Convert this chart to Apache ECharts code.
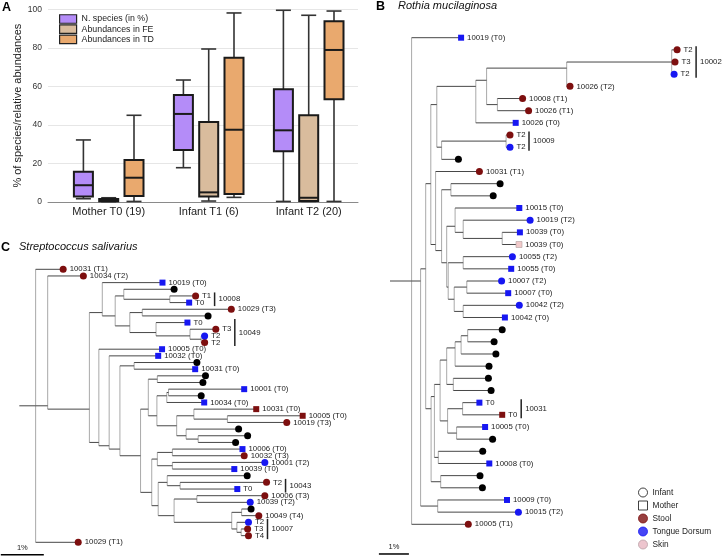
<!DOCTYPE html>
<html><head><meta charset="utf-8">
<script src="https://cdn.jsdelivr.net/npm/echarts@6/dist/echarts.min.js"></script>
<style>html,body{margin:0;padding:0;background:#fff}#c{width:722px;height:556px}</style>
</head><body><div id="c"></div>
<script>
// ---------- Panel A data ----------
const groups = ['Mother T0 (19)', 'Infant T1 (6)', 'Infant T2 (20)'];
const boxSeriesNames = ['N. species (in %)', 'Abundances in FE', 'Abundances in TD'];
// [min, Q1, median, Q3, max] per group
const nSpecies = [[1.7, 2.8, 8.7, 15.7, 32.2], [17.8, 27.0, 45.7, 55.5, 63.3], [0.3, 26.3, 37.2, 58.5, 99.5]];
const abundFE  = [[0.2, 0.4, 0.9, 1.6, 2.2], [0.5, 2.8, 5.0, 41.5, 79.4], [0.3, 0.5, 2.2, 45.0, 96.9]];
const abundTD  = [[0.3, 3.1, 12.6, 21.8, 45.0], [2.4, 4.2, 37.5, 74.9, 98.1], [0.3, 53.3, 78.9, 93.8, 99.1]];
const yTickMax = 100, yTickStep = 20;

// ---------- Panel B data (Rothia mucilaginosa) ----------
const bLabels = ['10019 (T0)','T2','T3','T2','10026 (T2)','10008 (T1)','10026 (T1)','10026 (T0)','T2','T2','',
  '10031 (T1)','','','10015 (T0)','10019 (T2)','10039 (T0)','10039 (T0)','10055 (T2)','10055 (T0)','10007 (T2)',
  '10007 (T0)','10042 (T2)','10042 (T0)','','','','','','','T0','T0','10005 (T0)','','','10008 (T0)','','',
  '10009 (T0)','10015 (T2)','10005 (T1)'];
const bTypes = ['MT','S','S','T','S','S','S','MT','S','T','U','S','U','U','MT','T','MT','MK','T','MT','T','MT','T','MT',
  'U','U','U','U','U','U','MT','MS','MT','U','U','MT','U','U','MT','T','S'];
// distance from root (in %)
const bDepth = [2.37,9.57,9.5,9.47,6.0,4.42,4.62,4.19,4.0,4.0,2.28,2.98,3.67,3.44,4.31,4.67,4.33,4.3,4.08,4.04,3.72,
  3.94,4.31,3.83,3.74,3.47,3.53,3.3,3.28,3.37,2.98,3.74,3.17,3.42,3.09,3.31,3.0,3.08,3.9,4.28,2.61];
// internal node = [depth, ...children]; leaf = leaf index
const bTree = [0.72, 0,
  [1.02,
    [1.19,
      [1.36,
        [1.56,
          [2.86, [3.22, [5.89, [9.39, 1, 2, 3], 4], [3.58, 5, 6]], 7],
          [1.72, [3.87, 8, 9], 10]],
        [1.52, 11,
          [1.72, [2.03, 12, 13],
            [1.89, [2.17, 14, [2.44, 15, [3.74, 16, 17]]],
              [1.94, [2.44, 18, 19], [2.14, [2.56, 20, 21], [2.44, 22, 23]]]]]]],
      [1.37,
        [1.48,
          [1.67,
            [1.89, [2.17, [2.37, [2.59, 24, 25], 26], 27], [2.11, 28, 29]],
            [1.92, [2.42, 30, 31], [2.22, 32, 33]]],
          [1.61, 34, 35]],
        [1.69, 36, 37]]],
    [1.59, 38, 39]],
  40];
const bClades = [['10002', 1, 3], ['10009', 8, 9], ['10031', 30, 31]];

// ---------- Panel C data (Streptococcus salivarius) ----------
const cLabels = ['10031 (T1)','10034 (T2)','10019 (T0)','','T1','T0','10029 (T3)','','T0','T3','T2','T2',
  '10005 (T0)','10032 (T0)','','10031 (T0)','','','10001 (T0)','','10034 (T0)','10031 (T0)','10005 (T0)','10019 (T3)',
  '','','','10006 (T0)','10032 (T3)','10001 (T2)','10039 (T0)','','T2','T0','10006 (T3)','10039 (T2)','','10049 (T4)',
  'T2','T3','T4','10029 (T1)'];
const cTypes = ['S','S','MT','U','S','MT','S','U','MT','S','T','S','MT','MT','U','MT','U','U','MT','U','MT','MS','MS','S',
  'U','U','U','MT','S','T','MT','U','S','MT','S','T','U','S','T','S','S','S'];
const cDepth = [1.02,1.49,3.33,3.6,4.1,3.95,4.93,4.39,3.91,4.57,4.31,4.31,3.32,3.23,4.13,4.09,4.33,4.27,5.23,4.23,4.3,
  5.51,6.59,6.22,5.1,5.31,5.03,5.19,5.23,5.71,5.0,5.3,5.75,5.07,5.71,5.37,5.39,5.57,5.33,5.31,5.33,1.37];
const cTree = [0.38, 0,
  [0.66, 1,
    [1.63,
      [1.93, 2,
        [2.23,
          [2.43, 3, [3.5, 4, 5]],
          [2.57, [2.86, 6, 7], [3.18, 8, [3.97, 9, [4.23, 10, 11]]]]]],
      [1.85, 12,
        [2.09, 13,
          [2.34, [2.67, 14, 15],
            [2.82,
              [3.0, [3.21, 16, 17],
                [3.2, [3.43, [3.47, 18, 19], 20],
                  [3.66, [4.06, 21, [4.84, 22, 23]], [3.88, 24, [4.16, 25, 26]]]]],
              [3.08,
                [3.21, [3.56, 27, 28], [3.56, 29, 30]],
                [3.23, [3.44, 31, [3.74, 32, 33]],
                  [3.6, [4.13, 34, 35], [4.94, [5.17, 36, 37], [5.06, 38, [5.16, 39, 40]]]]]]]]]]]],
  41];
const cClades = [['10008', 4, 5], ['10049', 8, 11], ['10043', 32, 33], ['10007', 38, 40]];

const legendBNames = ['Infant', 'Mother', 'Stool', 'Tongue Dorsum', 'Skin'];

// ---------- styling ----------
const FONT = 'Liberation Sans, Arial, sans-serif';
const STOOL = '#7d0f0f', TONGUE = '#1717f2', SKIN = '#f1c9c9';
const TYPE_STYLE = {
  S:  {symbol: 'circle', size: 7, color: STOOL},
  T:  {symbol: 'circle', size: 7, color: TONGUE},
  U:  {symbol: 'circle', size: 7, color: '#000'},
  MT: {symbol: 'rect', size: 6, color: TONGUE},
  MS: {symbol: 'rect', size: 6, color: STOOL},
  MK: {symbol: 'rect', size: 6, color: SKIN, border: '#b0a0a0'}
};
const BOX_COLORS = ['#b48cf8', '#d9bc9d', '#e9a96e'];
const BOX_OFFSETS = [-25.3, 0, 25.3];

// ---------- helpers ----------
function layoutTree(root, depths) {
  const segs = [];  // [x1,y1,x2,y2,kind]
  function visit(node) {
    if (typeof node === 'number') return {y: node, d: depths[node], s: node, n: 1};
    const d = node[0];
    const kids = node.slice(1).map(visit);
    let s = 0, n = 0;
    kids.forEach(k => { s += k.s; n += k.n; });
    const ys = kids.map(k => k.y);
    segs.push([d, Math.min(...ys), d, Math.max(...ys), 1]);
    kids.forEach(k => segs.push([d, k.y, k.d, k.y, 0]));
    return {y: s / n, d, s, n};
  }
  const r = visit(root);
  segs.push([0, r.y, r.d, r.y, 0]); // root edge
  return segs;
}

function edgeRender(params, api) {
  const p1 = api.coord([api.value(0), api.value(1)]);
  const p2 = api.coord([api.value(2), api.value(3)]);
  const vert = api.value(4) === 1;
  return {type: 'line', shape: {x1: p1[0], y1: p1[1], x2: p2[0], y2: p2[1]},
    style: {stroke: vert ? '#a9a9a9' : '#474747', lineWidth: 1}};
}

function bracketRender(clades, depths) {
  return function (params, api) {
    const c = clades[params.dataIndex];
    let maxD = -Infinity;
    for (let i = c[1]; i <= c[2]; i++) maxD = Math.max(maxD, depths[i]);
    const x = api.coord([maxD, c[1]])[0] + 19;
    const y1 = api.coord([0, c[1]])[1] - 3.5;
    const y2 = api.coord([0, c[2]])[1] + 3.5;
    return {type: 'group', children: [
      {type: 'line', shape: {x1: x, y1: y1, x2: x, y2: y2}, style: {stroke: '#222', lineWidth: 1.5}},
      {type: 'text', x: x + 4, y: (y1 + y2) / 2,
        style: {text: c[0], fill: '#222', fontSize: 7.8, fontFamily: FONT, verticalAlign: 'middle', align: 'left'}}
    ]};
  };
}

function scaleRender(params, api) {
  const a = api.coord([api.value(0), api.value(1)]);
  const b = api.coord([api.value(0) + 1, api.value(1)]);
  return {type: 'group', children: [
    {type: 'line', shape: {x1: a[0], y1: a[1], x2: b[0], y2: b[1]}, style: {stroke: '#000', lineWidth: 1.5}},
    {type: 'text', x: (a[0] + b[0]) / 2, y: a[1] - 7,
      style: {text: '1%', fill: '#222', fontSize: 7.5, fontFamily: FONT, align: 'center', verticalAlign: 'middle'}}
  ]};
}

function makeBoxRender(off, fill) {
  return function (params, api) {
    const cat = api.value(0);
    const py = k => api.coord([cat, api.value(k)])[1];
    const cx = api.coord([cat, 0])[0] + off;
    const yMin = py(1), yQ1 = py(2), yMed = py(3), yQ3 = py(4), yMax = py(5);
    const bw = 19, cw = 15;
    const ws = {stroke: '#333', lineWidth: 1.6};
    return {type: 'group', children: [
      {type: 'line', shape: {x1: cx, y1: yMax, x2: cx, y2: yQ3}, style: ws},
      {type: 'line', shape: {x1: cx, y1: yQ1, x2: cx, y2: yMin}, style: ws},
      {type: 'line', shape: {x1: cx - cw / 2, y1: yMax, x2: cx + cw / 2, y2: yMax}, style: ws},
      {type: 'line', shape: {x1: cx - cw / 2, y1: yMin, x2: cx + cw / 2, y2: yMin}, style: ws},
      {type: 'rect', shape: {x: cx - bw / 2, y: yQ3, width: bw, height: yQ1 - yQ3},
        style: {fill: fill, stroke: '#1a1a1a', lineWidth: 2}},
      {type: 'line', shape: {x1: cx - bw / 2, y1: yMed, x2: cx + bw / 2, y2: yMed},
        style: {stroke: '#1a1a1a', lineWidth: 2}}
    ]};
  };
}

function leafSeries(labels, types, depths, axisIdx, prefix) {
  return Object.keys(TYPE_STYLE).map(t => {
    const st = TYPE_STYLE[t];
    const data = [];
    types.forEach((ty, i) => { if (ty === t) data.push([depths[i], i, labels[i]]); });
    return {
      type: 'scatter', name: prefix + t, xAxisIndex: axisIdx, yAxisIndex: axisIdx,
      symbol: st.symbol, symbolSize: st.size, z: 5, silent: true,
      itemStyle: {color: st.color, borderColor: st.border || st.color, borderWidth: st.border ? 0.6 : 0, opacity: 1},
      label: {show: true, position: 'right', distance: 3, formatter: p => p.value[2],
        fontSize: 7.8, fontFamily: FONT, color: '#222'},
      data: data
    };
  });
}

const bSegs = layoutTree(bTree, bDepth);
const cSegs = layoutTree(cTree, cDepth);

const boxData = [nSpecies, abundFE, abundTD];

const series = [];
boxData.forEach((arr, si) => {
  series.push({
    type: 'custom', name: boxSeriesNames[si], xAxisIndex: 1, yAxisIndex: 1,
    itemStyle: {color: BOX_COLORS[si]},
    renderItem: makeBoxRender(BOX_OFFSETS[si], BOX_COLORS[si]),
    encode: {x: 0, y: [1, 2, 3, 4, 5]},
    data: arr.map((v, gi) => [gi].concat(v))
  });
});
// trees
[[bSegs, 2], [cSegs, 3]].forEach(([segs, ax]) => {
  series.push({type: 'custom', xAxisIndex: ax, yAxisIndex: ax, z: 1, silent: true,
    renderItem: edgeRender, encode: {x: [0, 2], y: [1, 3]}, data: segs});
});
series.push(...leafSeries(bLabels, bTypes, bDepth, 2, 'b'));
series.push(...leafSeries(cLabels, cTypes, cDepth, 3, 'c'));
series.push({type: 'custom', xAxisIndex: 2, yAxisIndex: 2, silent: true,
  renderItem: bracketRender(bClades, bDepth), data: bClades.map(c => [c[1], c[2]])});
series.push({type: 'custom', xAxisIndex: 3, yAxisIndex: 3, silent: true,
  renderItem: bracketRender(cClades, cDepth), data: cClades.map(c => [c[1], c[2]])});
// scale bars (1 % of branch length)
series.push({type: 'custom', xAxisIndex: 2, yAxisIndex: 2, silent: true, renderItem: scaleRender, data: [[-0.37, 42.44]]});
series.push({type: 'custom', xAxisIndex: 3, yAxisIndex: 3, silent: true, renderItem: scaleRender, data: [[-0.43, 42.86]]});
// legend-only series for panel B key
const legendStyles = {
  'Infant': {symbol: 'circle', color: '#fff', borderColor: '#111'},
  'Mother': {symbol: 'rect', color: '#fff', borderColor: '#111'},
  'Stool': {symbol: 'circle', color: STOOL, borderColor: STOOL},
  'Tongue Dorsum': {symbol: 'circle', color: TONGUE, borderColor: TONGUE},
  'Skin': {symbol: 'circle', color: '#e9b7c2', borderColor: '#b9a0a6'}
};
legendBNames.forEach(n => {
  const s = legendStyles[n];
  series.push({type: 'scatter', name: n, xAxisIndex: 2, yAxisIndex: 2, symbol: s.symbol,
    itemStyle: {color: s.color, borderColor: s.borderColor, borderWidth: 1}, data: []});
});

const titleBold = {fontSize: 12.5, fontWeight: 'bold', color: '#000', fontFamily: FONT};
const titleItal = {fontSize: 11, fontStyle: 'italic', fontWeight: 'normal', color: '#111', fontFamily: FONT};

const option = {
  animation: false,
  textStyle: {fontFamily: FONT},
  title: [
    {text: 'A', left: 2, top: 1, padding: 0, textStyle: titleBold},
    {text: 'B', left: 376, top: 0, padding: 0, textStyle: titleBold},
    {text: 'Rothia mucilaginosa', left: 398, top: 0.5, padding: 0, textStyle: titleItal},
    {text: 'C', left: 1, top: 241, padding: 0, textStyle: titleBold},
    {text: 'Streptococcus salivarius', left: 19, top: 241.5, padding: 0, textStyle: titleItal}
  ],
  legend: [
    {data: boxSeriesNames.map((n, i) => ({name: n, icon: 'rect',
        itemStyle: {color: BOX_COLORS[i], borderColor: '#222', borderWidth: 1.2}})),
     orient: 'vertical', left: 59, top: 14, padding: 0, itemWidth: 17, itemHeight: 8.5, itemGap: 0.2,
     selectedMode: false, textStyle: {fontSize: 8.8, color: '#222', lineHeight: 10, fontFamily: FONT}},
    {data: legendBNames.map(n => ({name: n, icon: legendStyles[n].symbol,
        itemStyle: {color: legendStyles[n].color, borderColor: legendStyles[n].borderColor, borderWidth: 1}})),
     orient: 'vertical', left: 638, top: 487.5, padding: 0, itemWidth: 9, itemHeight: 9, itemGap: 3,
     selectedMode: false, textStyle: {fontSize: 8.3, color: '#222', lineHeight: 10, fontFamily: FONT}}
  ],
  grid: [
    {left: 48, top: 9.3, width: 310, height: 192.7},
    {left: 58.7, top: 9.3, width: 300, height: 192.7},
    {left: 390, top: 37.7, width: 330, height: 486.6},
    {left: 19.3, top: 269.3, width: 344, height: 273}
  ],
  xAxis: [
    {gridIndex: 0, type: 'value', min: 0, max: 1, axisLabel: {show: false}, splitLine: {show: false},
      axisTick: {show: false}, axisLine: {show: true, lineStyle: {color: '#8a8a8a', width: 1}}},
    {gridIndex: 1, type: 'category', data: groups, axisLine: {show: false}, axisTick: {show: false},
      axisLabel: {fontSize: 11, color: '#222', margin: 4, fontFamily: FONT}},
    {gridIndex: 2, type: 'value', min: 0, max: 11, show: false},
    {gridIndex: 3, type: 'value', min: 0, max: 8, show: false}
  ],
  yAxis: [
    {gridIndex: 0, type: 'value', min: 0, max: yTickMax, interval: yTickStep,
      name: '% of species/relative abundances', nameLocation: 'middle', nameGap: 15,
      nameTextStyle: {fontSize: 11, color: '#222', fontFamily: FONT},
      axisLine: {show: false}, axisTick: {show: false},
      axisLabel: {fontSize: 8.5, color: '#333', margin: 6},
      splitLine: {lineStyle: {color: '#e6e6e6', width: 1}}},
    {gridIndex: 1, type: 'value', min: 0, max: yTickMax, show: false},
    {gridIndex: 2, type: 'value', min: 0, max: bLabels.length - 1, inverse: true, show: false},
    {gridIndex: 3, type: 'value', min: 0, max: cLabels.length - 1, inverse: true, show: false}
  ],
  series: series
};

const chart = echarts.init(document.getElementById('c'), null, {renderer: 'canvas'});
chart.setOption(option);
</script>
</body></html>
